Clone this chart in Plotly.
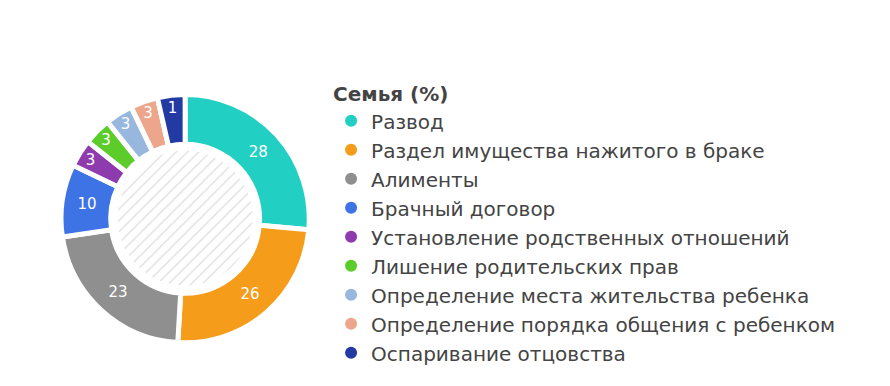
import plotly.graph_objects as go

categories = [
    "Развод",
    "Раздел имущества нажитого в браке",
    "Алименты",
    "Брачный договор",
    "Установление родственных отношений",
    "Лишение родительских прав",
    "Определение места жительства ребенка",
    "Определение порядка общения с ребенком",
    "Оспаривание отцовства",
]
values = [28, 26, 23, 10, 3, 3, 3, 3, 1]
colors = ["#22CFC3", "#F59D1B", "#8F8F8F", "#3E73E6", "#8E3BAE",
          "#5BCC2A", "#97B7DF", "#EDA68B", "#233AA3"]
legend_title = "Семья (%)"

# like a "minimum slice angle" option: tiny shares are drawn at a minimum size
MIN_SHARE = 3.8
drawn = [max(v, MIN_SHARE) for v in values]

FONT = "DejaVu Sans"

fig = go.Figure()

# hatched centre disc
fig.add_trace(go.Pie(
    values=[1], labels=[""], hole=0, sort=False,
    domain=dict(x=[0.131, 0.285], y=[0.26, 0.61]),
    marker=dict(colors=["white"], line=dict(width=0),
                pattern=dict(shape="/", fgcolor="#DDDDDD", bgcolor="white",
                             size=8, solidity=0.15)),
    textinfo="none", hoverinfo="skip", showlegend=False,
))

fig.add_trace(go.Pie(
    labels=categories, values=drawn, text=[str(v) for v in values],
    sort=False, direction="clockwise", rotation=0, hole=0.6,
    domain=dict(x=[0.0685, 0.3475], y=[0.112, 0.755]),
    marker=dict(colors=colors, line=dict(color="white", width=5)),
    textinfo="text", textposition="inside", insidetextorientation="horizontal",
    textfont=dict(family=FONT, size=15, color="white"),
    showlegend=False,
))

for c, col in zip(categories, colors):
    fig.add_trace(go.Scatter(
        x=[None], y=[None], mode="markers", name=c,
        marker=dict(color=col, size=12, symbol="circle"),
        showlegend=True,
    ))

fig.update_layout(
    width=890, height=386,
    margin=dict(l=0, r=0, t=0, b=0),
    paper_bgcolor="white", plot_bgcolor="white",
    xaxis=dict(visible=False), yaxis=dict(visible=False),
    legend=dict(
        title=dict(text="<b>" + legend_title + "</b>",
                   font=dict(family=FONT, size=20, color="#444444")),
        font=dict(family=FONT, size=20, color="#444444"),
        x=0.372, y=0.805, xanchor="left", yanchor="top",
        itemwidth=30, tracegroupgap=0,
        bgcolor="rgba(0,0,0,0)",
    ),
)

fig.write_html("out.html")
